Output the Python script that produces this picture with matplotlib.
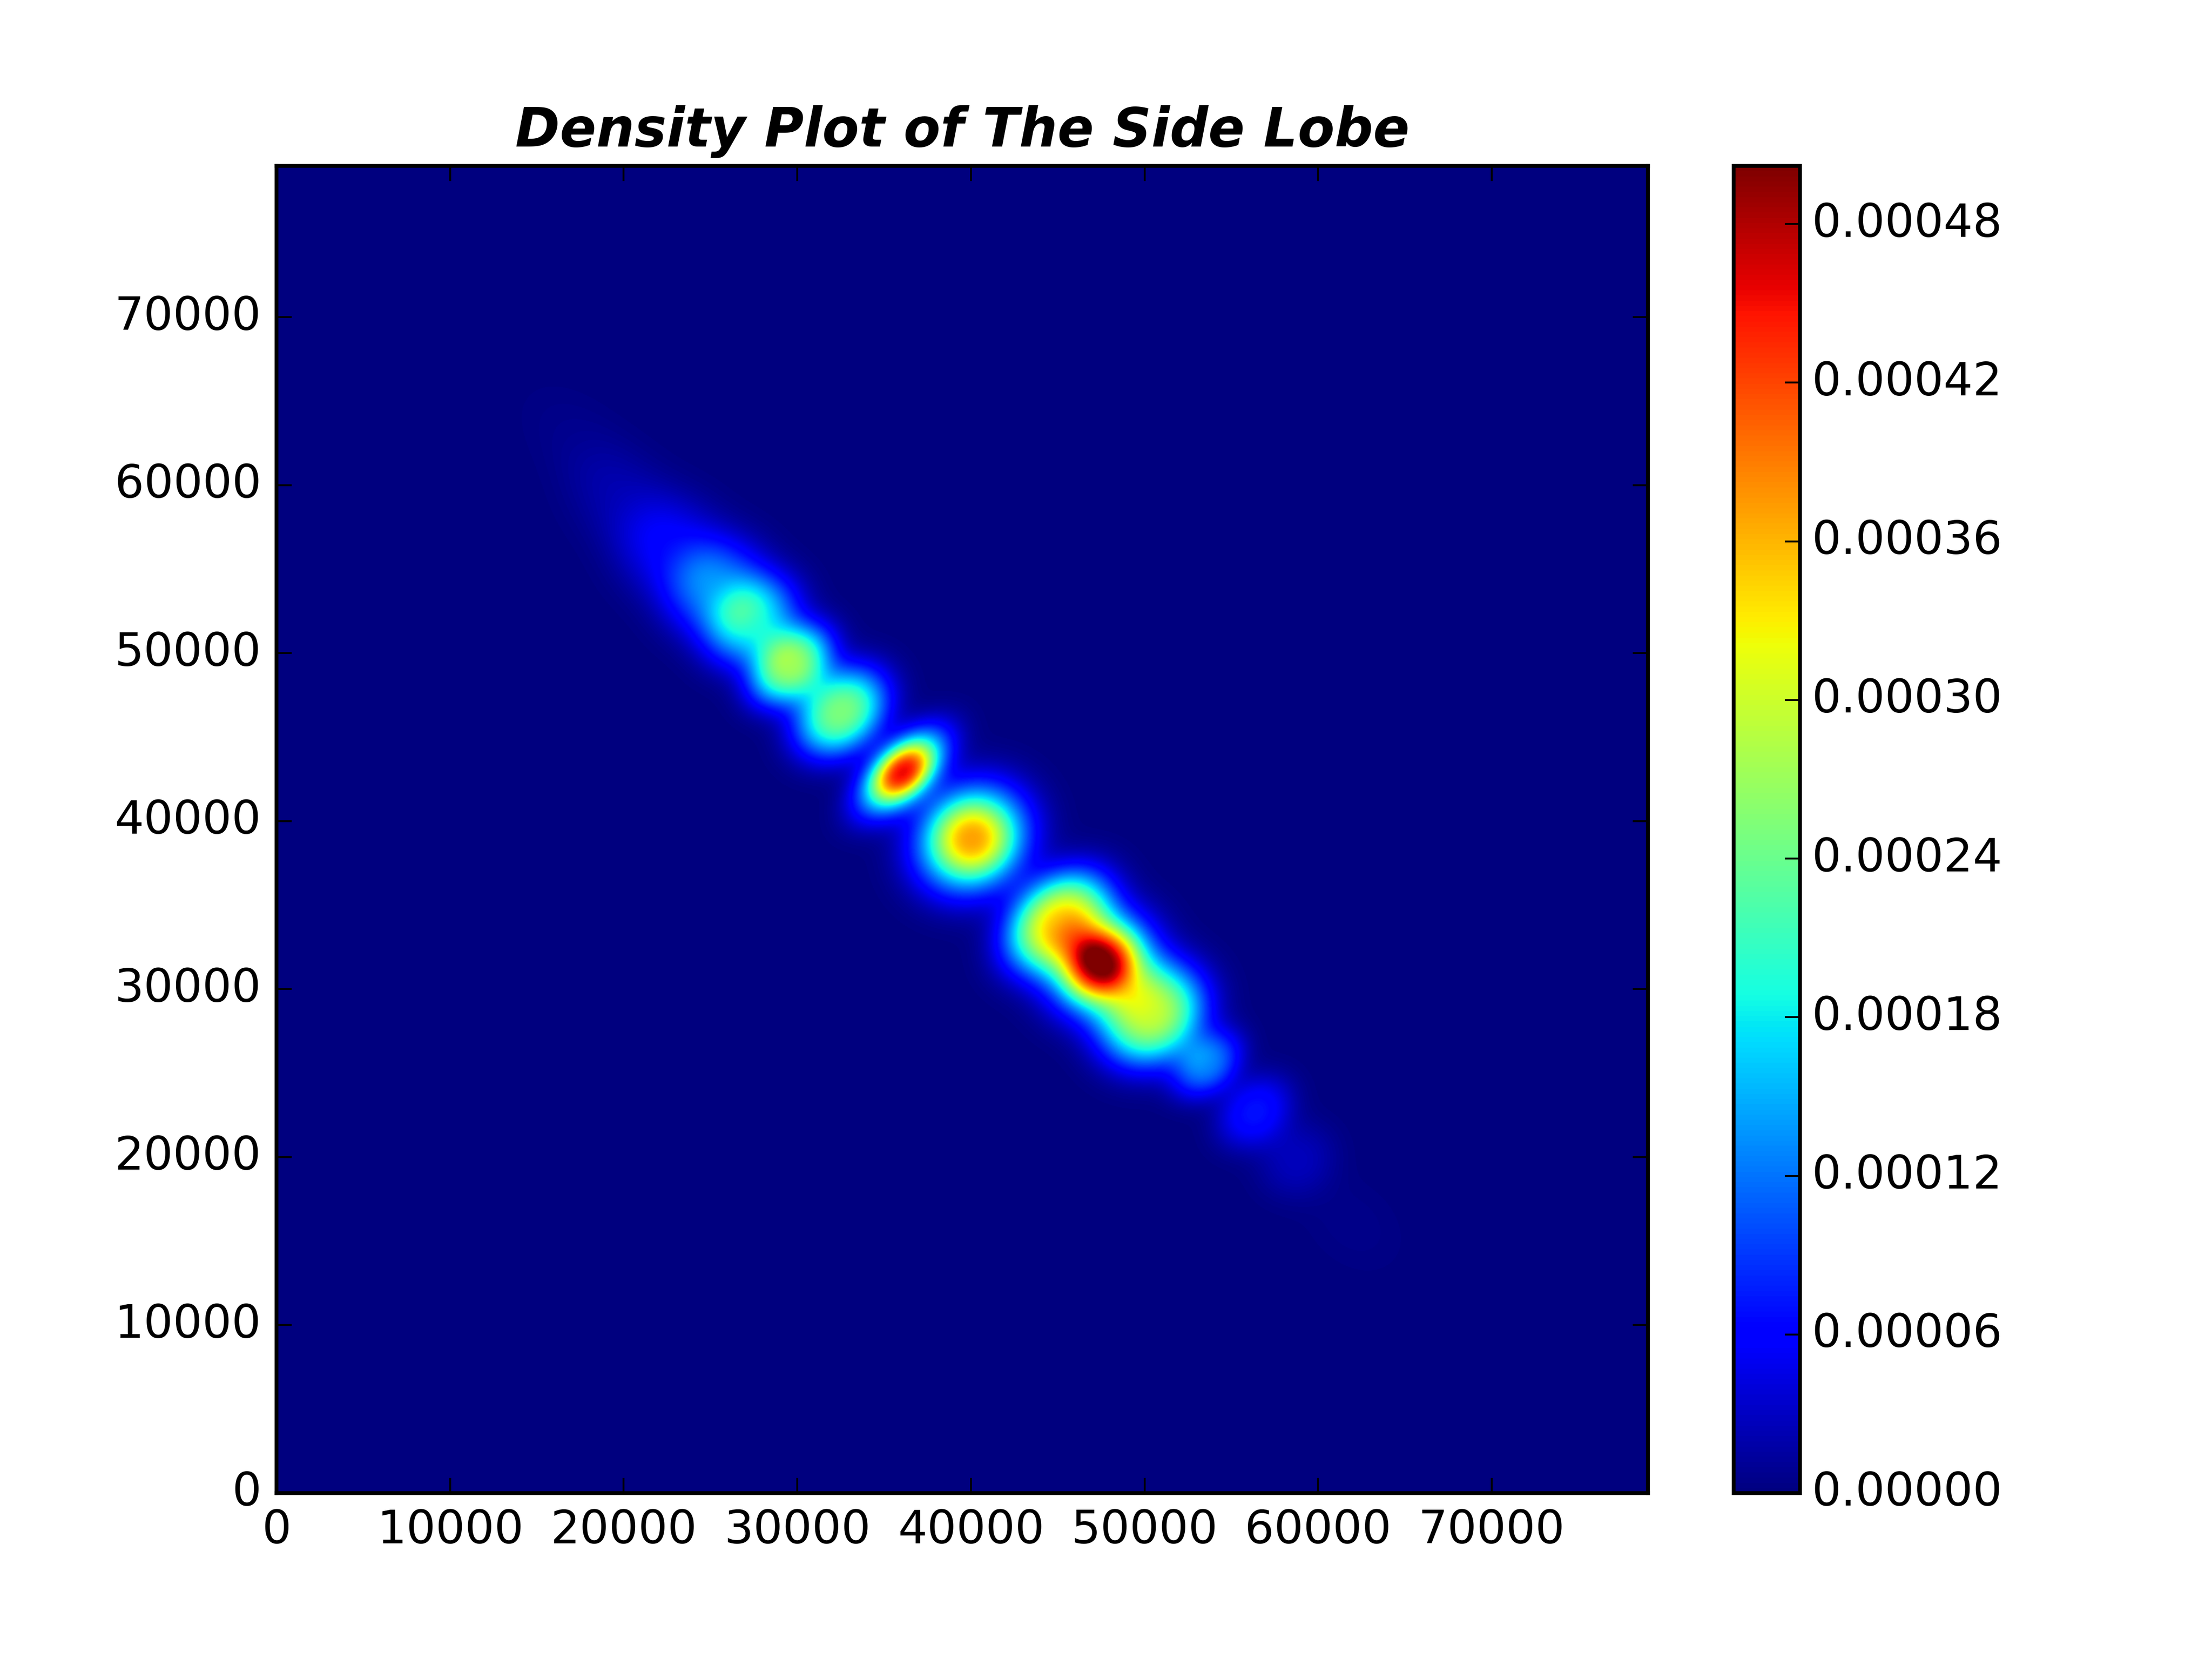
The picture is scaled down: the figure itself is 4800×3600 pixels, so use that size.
import numpy as np
import matplotlib
matplotlib.use("Agg")
import matplotlib.pyplot as plt

plt.style.use("classic")

TITLE = "Density Plot of The Side Lobe"
X_TICKS = [0, 10000, 20000, 30000, 40000, 50000, 60000, 70000]
Y_TICKS = [0, 10000, 20000, 30000, 40000, 50000, 60000, 70000]
CBAR_TICKS = [0.0, 0.00006, 0.00012, 0.00018, 0.00024, 0.00030, 0.00036, 0.00042, 0.00048]
VMAX = 0.000502
EXTENT_MAX = 79000

# Lobes: centre, peak, width along / across the ridge.
# The lobes with a bright core are listed twice: broad body, then core.
LOBE_X = [17500, 20000, 22750, 25300, 27400, 29600, 32500, 36050, 36050, 40050, 40050, 45000, 47500, 47500, 50400, 53650, 56360, 58800, 62000]
LOBE_Y = [62500, 59000, 56200, 53900, 51900, 49300, 46500, 42930, 42930, 38950, 38950, 34000, 31500, 31500, 28500, 25470, 22670, 19800, 16000]
LOBE_PEAK = [0.000006, 0.000018, 0.00005, 0.00011, 0.00017, 0.00026, 0.00025, 0.00026, 0.00019, 0.00026, 0.00011, 0.00033, 0.00023, 0.00025, 0.00029, 0.00012, 0.00007, 0.000026, 0.000005]
LOBE_ALONG = [3000, 2800, 2400, 2000, 1700, 1400, 1700, 1300, 900, 2300, 1500, 1800, 2000, 1300, 2100, 1200, 1400, 1600, 2500]
LOBE_ACROSS = [1800, 2100, 2300, 2300, 2200, 2000, 2200, 2400, 1400, 2600, 1500, 2500, 2500, 1600, 2400, 1700, 1800, 1800, 1800]

grid = np.linspace(0, EXTENT_MAX, 500)
gx, gy = np.meshgrid(grid, grid)
density = np.zeros_like(gx)
for cx, cy, peak, s_u, s_v in zip(LOBE_X, LOBE_Y, LOBE_PEAK, LOBE_ALONG, LOBE_ACROSS):
    u = ((gx - cx) - (gy - cy)) / np.sqrt(2)
    v = ((gx - cx) + (gy - cy)) / np.sqrt(2)
    density += peak * np.exp(-0.5 * ((u / s_u) ** 2 + (v / s_v) ** 2) ** 1.25)

fig = plt.figure(figsize=(8, 6), dpi=600)
ax = fig.add_subplot(111)
im = ax.imshow(density, origin="lower", cmap="jet", aspect="auto", vmin=0, vmax=VMAX,
               extent=[0, EXTENT_MAX, 0, EXTENT_MAX], interpolation="bilinear")
ax.set_xticks(X_TICKS)
ax.set_yticks(Y_TICKS)
ax.set_xlim(0, EXTENT_MAX)
ax.set_ylim(0, EXTENT_MAX)
ax.set_title(TITLE, fontsize=14, fontweight="bold", fontstyle="italic")
cbar = fig.colorbar(im, ax=ax, ticks=CBAR_TICKS, format="%.5f")
cbar.ax.tick_params(pad=3.0)
fig.savefig("out.png", dpi=600)
